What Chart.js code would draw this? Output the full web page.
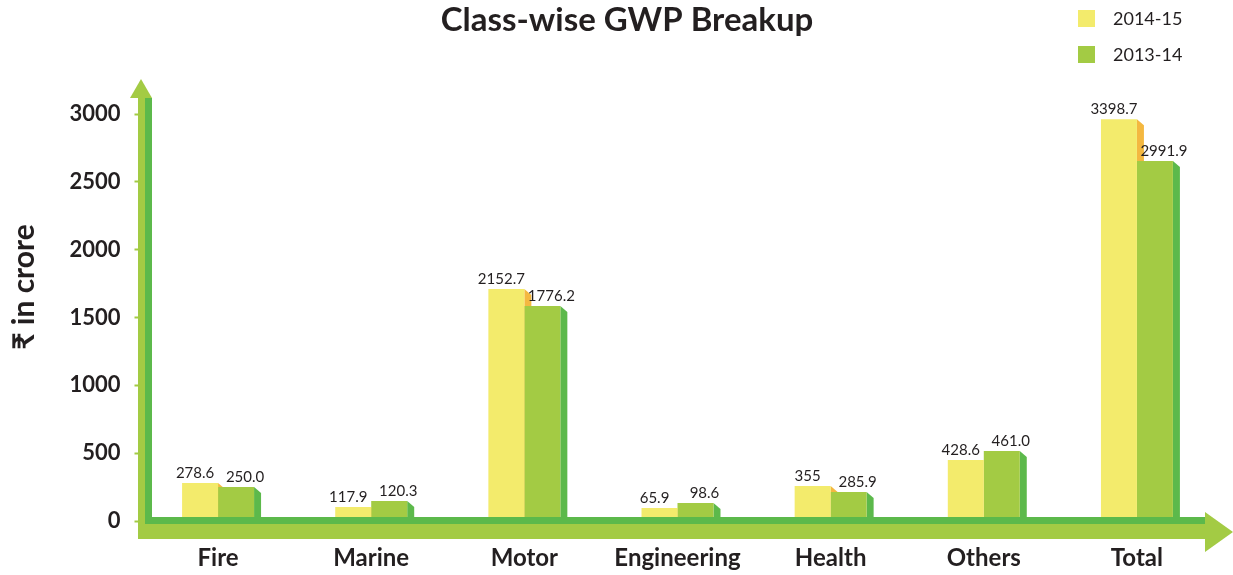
<!DOCTYPE html>
<html>
<head>
<meta charset="utf-8">
<title>Class-wise GWP Breakup</title>
<script src="https://cdn.jsdelivr.net/npm/chart.js@4/dist/chart.umd.min.js"></script>
<style>
  html, body { margin: 0; padding: 0; background: #fff; }
  #wrap { width: 1233px; height: 575px; position: relative; }
</style>
</head>
<body>
<div id="wrap"><canvas id="gwpChart"></canvas></div>
<script>
"use strict"

// categories along the x axis
let categories = ["Fire", "Marine", "Motor", "Engineering", "Health", "Others", "Total"];

// bar heights as drawn in the picture (read against the y axis)
let gwp1415 = [280, 103, 1710, 96, 258, 450, 2962];
let gwp1314 = [251, 147, 1584, 133, 214, 516, 2653];

// the numbers printed above the bars
let labels1415 = ["278.6", "117.9", "2152.7", "65.9", "355", "428.6", "3398.7"];
let labels1314 = ["250.0", "120.3", "1776.2", "98.6", "285.9", "461.0", "2991.9"];

let seriesNames = ["2014-15", "2013-14"];
let yTicks = [0, 500, 1000, 1500, 2000, 2500, 3000];

// colours
let yellow = "#f3eb6c";
let yellowSide = "#f4b840";
let green = "#a3cb44";
let greenSide = "#5cb94b";
let textColor = "#231f20";

// side faces for the 3d look, drawn before the bars so the bars cover them
let sideFaces = {
    id: "sideFaces",
    beforeDatasetsDraw(chart) {
        let ctx = chart.ctx;
        let sides = [yellowSide, greenSide];
        ctx.save();
        for (let d = 0; d < chart.data.datasets.length; d++) {
            let meta = chart.getDatasetMeta(d);
            ctx.fillStyle = sides[d];
            meta.data.forEach(function (bar) {
                let p = bar.getProps(["x", "y", "base", "width"], true);
                let right = p.x + p.width / 2;
                ctx.beginPath();
                ctx.moveTo(right, p.y);
                ctx.lineTo(right + 7, p.y + 6);
                ctx.lineTo(right + 7, p.base);
                ctx.lineTo(right, p.base);
                ctx.closePath();
                ctx.fill();
            });
        }
        ctx.restore();
    }
};

// value labels, green arrow axes, title and legend
let decorations = {
    id: "decorations",
    afterDatasetsDraw(chart) {
        let ctx = chart.ctx;
        let texts = [labels1415, labels1314];
        let shifts = [-5, 9];
        ctx.save();
        ctx.font = "15px Lato, 'Open Sans', sans-serif";
        ctx.fillStyle = textColor;
        ctx.textAlign = "center";
        ctx.textBaseline = "alphabetic";
        for (let d = 0; d < chart.data.datasets.length; d++) {
            let meta = chart.getDatasetMeta(d);
            meta.data.forEach(function (bar, i) {
                ctx.fillText(texts[d][i], bar.x + shifts[d], bar.y - 5);
            });
        }
        ctx.restore();
    },
    afterDraw(chart) {
        let ctx = chart.ctx;
        let zeroY = chart.scales.y.getPixelForValue(0);
        ctx.save();

        // y axis arrow
        ctx.fillStyle = green;
        ctx.fillRect(138, 98, 7, zeroY + 18 - 98);
        ctx.fillStyle = greenSide;
        ctx.fillRect(145, 98, 7, zeroY + 3 - 98);
        ctx.fillStyle = green;
        ctx.beginPath();
        ctx.moveTo(130, 98);
        ctx.lineTo(141, 79);
        ctx.lineTo(152, 98);
        ctx.closePath();
        ctx.fill();

        // x axis arrow
        ctx.fillStyle = greenSide;
        ctx.fillRect(145, zeroY - 4, 1205 - 145, 7);
        ctx.fillStyle = green;
        ctx.fillRect(138, zeroY + 3, 1205 - 138, 15);
        ctx.beginPath();
        ctx.moveTo(1205, zeroY - 9);
        ctx.lineTo(1233, zeroY + 11);
        ctx.lineTo(1205, zeroY + 31);
        ctx.closePath();
        ctx.fill();

        // title
        ctx.fillStyle = textColor;
        ctx.textAlign = "center";
        ctx.textBaseline = "middle";
        ctx.font = "bold 33px Lato, 'Open Sans', sans-serif";
        ctx.fillText("Class-wise GWP Breakup", 627, 20);

        // y axis title
        ctx.save();
        ctx.translate(24, 287);
        ctx.rotate(-Math.PI / 2);
        ctx.font = "bold 30px Lato, 'Noto Sans', 'DejaVu Sans', sans-serif";
        ctx.fillText("\u20B9 in crore", 0, 0);
        ctx.restore();

        // legend
        ctx.textAlign = "left";
        ctx.font = "18px Lato, 'Open Sans', sans-serif";
        chart.data.datasets.forEach(function (ds, i) {
            let top = 10 + i * 36;
            ctx.fillStyle = ds.backgroundColor;
            ctx.fillRect(1078, top, 17, 17);
            ctx.fillStyle = textColor;
            ctx.fillText(ds.label, 1113, top + 9);
        });
        ctx.restore();
    }
};

let ctx = document.getElementById("gwpChart").getContext("2d");
let gwpChart = new Chart(ctx, {
    type: "bar",
    data: {
        labels: categories,
        datasets: [
            {
                label: seriesNames[0],
                data: gwp1415,
                backgroundColor: yellow,
                barPercentage: 1,
                categoryPercentage: 0.47
            },
            {
                label: seriesNames[1],
                data: gwp1314,
                backgroundColor: green,
                barPercentage: 1,
                categoryPercentage: 0.47
            }
        ]
    },
    options: {
        responsive: true,
        maintainAspectRatio: false,
        animation: false,
        layout: {
            padding: { top: 114, left: 0, right: 19.5, bottom: 4 }
        },
        plugins: {
            legend: { display: false },
            title: { display: false },
            tooltip: { enabled: false }
        },
        scales: {
            x: {
                afterFit: function (scale) { scale.height = 50; },
                grid: { display: false, drawTicks: false },
                border: { display: false },
                ticks: {
                    padding: 23,
                    color: textColor,
                    font: { family: "Lato, 'Open Sans', sans-serif", size: 24, weight: "bold" }
                }
            },
            y: {
                min: 0,
                max: 3000,
                afterFit: function (scale) { scale.width = 141.5; },
                afterBuildTicks: function (scale) {
                    scale.ticks = yTicks.map(function (v) { return { value: v }; });
                },
                grid: {
                    drawOnChartArea: false,
                    drawTicks: true,
                    tickLength: 7,
                    tickWidth: 2,
                    tickColor: green
                },
                border: { display: false },
                ticks: {
                    padding: 14,
                    color: textColor,
                    callback: function (value) { return String(value); },
                    font: { family: "Lato, 'Open Sans', sans-serif", size: 22, weight: "bold" }
                }
            }
        }
    },
    plugins: [sideFaces, decorations]
});
</script>
</body>
</html>
